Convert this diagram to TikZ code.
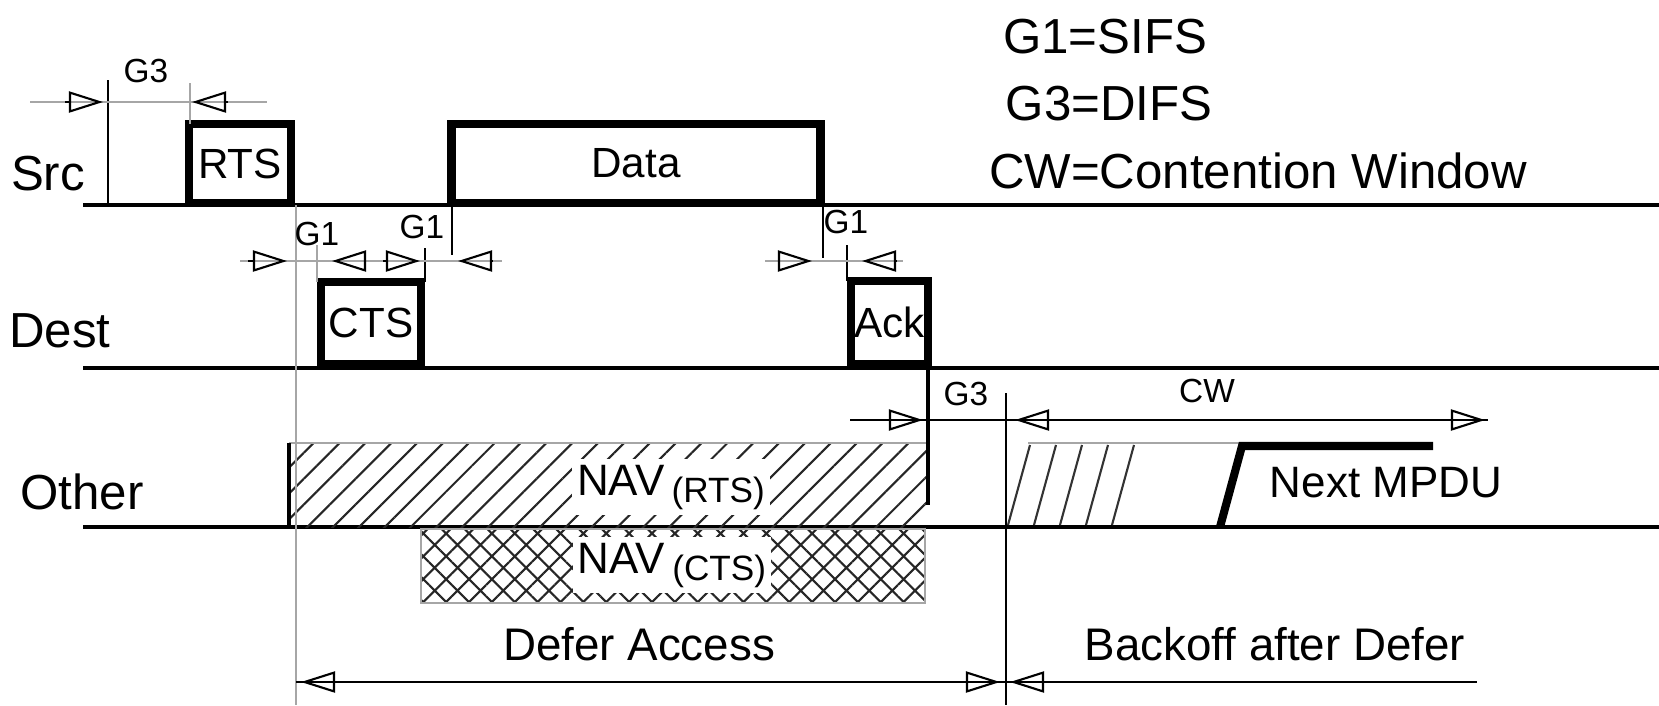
\documentclass[tikz,border=0pt]{standalone}
\usepackage{fontspec}
\setmainfont{Liberation Sans}
\usetikzlibrary{arrows.meta,patterns.meta}
\tikzset{gapar/.style={-{Triangle[open,length=3.4mm,width=2.1mm]},line width=0.6pt},
         tline/.style={line width=1.15pt},
         guide/.style={gray!70,line width=0.6pt},
         pkt/.style={draw,line width=2.5pt,inner sep=0pt,font=\fontsize{12}{14}\selectfont},
         lbl/.style={anchor=base,inner sep=0pt,font=\fontsize{14}{16}\selectfont},
         glbl/.style={anchor=base,inner sep=0pt,font=\fontsize{9.5}{11}\selectfont}}

\begin{document}
\begin{tikzpicture}[x=0.01cm,y=-0.01cm,
  navlbl/.style={anchor=base,fill=white,inner sep=1.5pt,font=\fontsize{12.5}{14}\selectfont},
  navrts/.style={pattern={Lines[angle=45,distance=5.2pt,line width=0.6pt]},pattern color=black!85},
  navcts/.style={pattern={Hatch[angle=45,distance=4.6pt,line width=0.6pt]},pattern color=black!85}]
\useasboundingbox (0,0) rectangle (1659,705);
% the three stations
\draw[tline] (83,205) -- (1659,205);
\draw[tline] (83,368) -- (1659,368);
\draw[tline] (83,527) -- (1659,527);
\node[lbl] (src) at (48,190) {Src};
\node[lbl] (dest) at (60,347) {Dest};
\node[lbl] (other) at (82,509) {Other};
\node[lbl] (leg1) at (1105,53) {G1=SIFS};
\node[lbl] (leg2) at (1109,120) {G3=DIFS};
\node[lbl] (leg3) at (1258,188) {CW=Contention Window};
% NAV periods at the other station
\fill[navrts] (289,443) rectangle (926,527);
\draw[guide] (289,443) -- (926,443);
\draw[line width=1pt] (289,443) -- (289,527);
\fill[navcts] (421,529) rectangle (925,603);
\draw[guide] (421,529) rectangle (925,603);
\node[navlbl] (navrts) at (671,495) {NAV\,\raisebox{-2pt}{\fontsize{10}{12}\selectfont(RTS)}};
\node[navlbl] (navcts) at (672,573) {NAV\,\raisebox{-2pt}{\fontsize{10}{12}\selectfont(CTS)}};
% frames
\node[pkt,minimum width=1.02cm,minimum height=0.79cm] (rts) at (240,163.5) {RTS};
\node[pkt,minimum width=3.68cm,minimum height=0.79cm] (data) at (636,163.5) {Data};
\node[pkt,minimum width=1.00cm,minimum height=0.82cm] (cts) at (371,323) {CTS};
\node[pkt,minimum width=0.77cm,minimum height=0.83cm] (ack) at (889.5,322.5) {Ack};
% time marks
\foreach \x/\ya/\yb in {108/80/205,452/205/255,823/205/258,425/248/282,847/245/281,1006/393/705}
  \draw[line width=0.7pt] (\x,\ya) -- (\x,\yb);
\foreach \x/\ya/\yb in {190/83/124,317/245/282,296/205/705}
  \draw[guide] (\x,\ya) -- (\x,\yb);
\draw[line width=1.4pt] (928,368) -- (928,505);
% gap lines and their arrows
\draw[guide] (30,102) -- (267,102);
\draw[guide] (240,261) -- (502,261);
\draw[guide] (765,261) -- (903,261);
\draw[line width=0.6pt] (850,420) -- (1488,420);
\draw[line width=0.6pt] (296,682) -- (1477,682);
\foreach \b/\t/\y in {65/103/102,228/192/102,248/287/261,365/332/261,383/420/261,
    493/458/261,778/812/261,897/862/261,890/923/420,1048/1015/420,1449/1485/420,
    337/301/682,964/1000/682,1046/1010/682}
  \draw[gapar] (\b,\y) -- (\t,\y);
\node[glbl] (g3a) at (146,82) {G3};
\node[glbl] (g1a) at (317,245) {G1};
\node[glbl] (g1b) at (422,238) {G1};
\node[glbl] (g1c) at (846,233) {G1};
\node[glbl] (g3b) at (966,405) {G3};
\node[glbl] (cw) at (1207,402) {CW};
% backoff slots and next frame
\draw[guide] (1028,443) -- (1240,443);
\foreach \x in {1008,1034,1060,1086,1112}
  \draw[black!80,line width=0.6pt] (\x,525) -- (\x+22,445);
\draw[line width=2.3pt] (1220,527) -- (1242,446) -- (1433,446);
\node[anchor=base,inner sep=0pt,font=\fontsize{12.5}{14}\selectfont] (next) at (1386,497) {Next MPDU};
\node[anchor=base,inner sep=0pt,font=\fontsize{13}{15}\selectfont] (defer) at (639,660) {Defer Access};
\node[anchor=base,inner sep=0pt,font=\fontsize{13}{15}\selectfont] (backoff) at (1275,660) {Backoff after Defer};
\end{tikzpicture}
\end{document}
